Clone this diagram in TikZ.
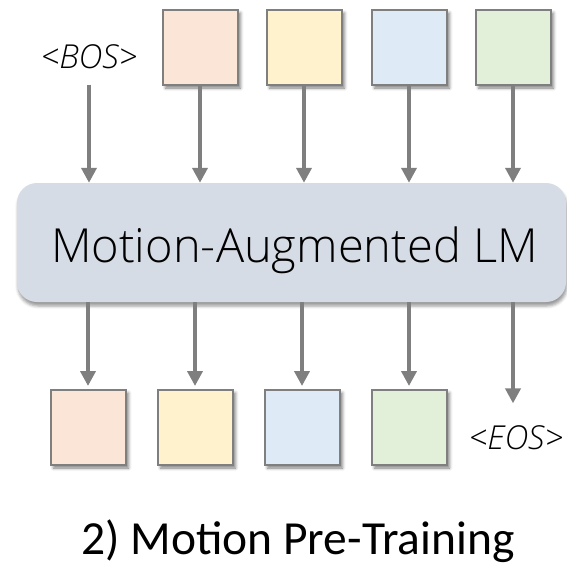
\documentclass[tikz,border=0pt]{standalone}
\usepackage{fontspec}
\setmainfont{Carlito}
\newfontfamily\lightsf{Open Sans Light}[ItalicFont={Open Sans Light Italic}]
\usepackage{tikz}
\usetikzlibrary{positioning,arrows.meta,shadows.blur}
\definecolor{edge}{HTML}{7F7F7F}
\definecolor{tokA}{HTML}{FBE5D6}
\definecolor{tokB}{HTML}{FFF2CC}
\definecolor{tokC}{HTML}{DEEBF7}
\definecolor{tokD}{HTML}{E2F0D9}
\definecolor{lmfill}{HTML}{D6DCE5}

\begin{document}
\begin{tikzpicture}[x=1pt, y=-1pt,
    >={Triangle[width=15pt,length=15pt]},
    tok/.style={draw=edge, line width=2pt, minimum size=75pt, inner sep=0pt,
      blur shadow={shadow xshift=3pt, shadow yshift=-3pt, shadow blur radius=3pt, shadow opacity=50}},
    arr/.style={->, draw=edge, line width=4pt},
    special/.style={font=\lightsf\itshape\fontsize{33}{33}\selectfont},
    lm/.style={fill=lmfill, rounded corners=20pt, minimum width=549pt, minimum height=119pt,
      blur shadow={shadow xshift=1pt, shadow yshift=-4pt, shadow blur radius=3pt, shadow opacity=40}}]
  \useasboundingbox (0,0) rectangle (567,565);

  % input tokens
  \node[special] (bos) at (89,57) {<BOS>};
  \node[tok, fill=tokA] (t1) at (200,47.5) {};
  \node[tok, fill=tokB] (t2) at (304,47.5) {};
  \node[tok, fill=tokC] (t3) at (409,47.5) {};
  \node[tok, fill=tokD] (t4) at (513,47.5) {};

  % language model
  \node[lm] (lm) at (291.5,242.5) {};
  \node[font=\lightsf\fontsize{47}{47}\selectfont, anchor=base] (lmname) at (294.5,262) {Motion-Augmented LM};

  % output tokens
  \node[tok, fill=tokA] (o1) at (88,427.5) {};
  \node[tok, fill=tokB] (o2) at (195,427.5) {};
  \node[tok, fill=tokC] (o3) at (302,427.5) {};
  \node[tok, fill=tokD] (o4) at (409,427.5) {};
  \node[special] (eos) at (516,438) {<EOS>};

  \draw[arr, shorten <=12pt] (bos) -- (bos |- lm.north);
  \foreach \i in {1,...,4}
    \draw[arr] (t\i) -- (t\i |- lm.north);
  \foreach \i in {1,...,4}
    \draw[arr, shorten >=3pt] (o\i |- lm.south) -- (o\i);
  \draw[arr, shorten >=19pt] (t4 |- lm.south) -- (t4 |- eos.north);

  \node[font=\fontsize{47.5}{47.5}\selectfont, anchor=base] (title) at (298,554) {2) Motion Pre-Training};
\end{tikzpicture}
\end{document}
